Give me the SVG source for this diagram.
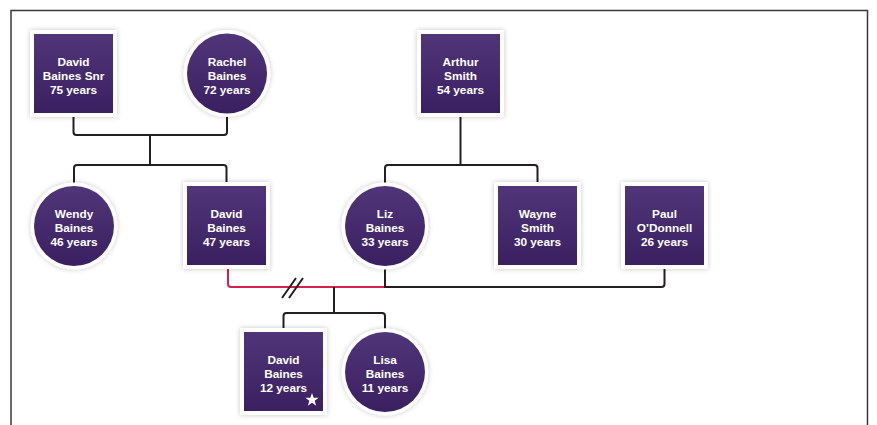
<svg xmlns="http://www.w3.org/2000/svg" width="877" height="425" viewBox="0 0 877 425">
<defs>
<linearGradient id="pg" x1="0" y1="0" x2="0" y2="1">
<stop offset="0" stop-color="#503678"/>
<stop offset="1" stop-color="#3a2061"/>
</linearGradient>
<filter id="sh" x="-20%" y="-20%" width="140%" height="140%">
<feDropShadow dx="0" dy="0" stdDeviation="2.5" flood-color="#000" flood-opacity="0.22"/>
</filter>
<style>
.ow{fill:#fff;filter:url(#sh)}
.in{fill:url(#pg)}
.t{font-family:"Liberation Sans",Arial,sans-serif;font-weight:bold;font-size:11.8px;fill:#fff;text-anchor:middle}
.c{fill:none;stroke:#231f20;stroke-width:2}
.r{fill:none;stroke:#d6204d;stroke-width:2}
</style>
</defs>
<rect width="877" height="425" fill="#fff"/>
<path d="M11,425 V10.5 H867.5 V425" fill="none" stroke="#3a3a3a" stroke-width="1.5"/>
<g id="connectors">
<path class="c" d="M73.5,117 V132 Q73.5,135 76.5,135 H224 Q227,135 227,132 V116"/>
<path class="c" d="M150,135 V165"/>
<path class="c" d="M74,183 V168 Q74,165 77,165 H223.5 Q226.5,165 226.5,168 V182"/>
<path class="c" d="M460.5,117 V165" stroke-width="2.6"/>
<path class="c" d="M385,183 V168 Q385,165 388,165 H534.5 Q537.5,165 537.5,168 V182"/>
<path class="r" d="M228,269 V284 Q228,287 231,287 H385"/>
<path class="c" d="M385,269 V287 H661.5 Q664.5,287 664.5,284 V269"/>
<path class="c" d="M282,298 L296,278 M289,298 L303,278"/>
<path class="c" d="M334,287 V313"/>
<path class="c" d="M283.5,328 V316 Q283.5,313 286.5,313 H382 Q385,313 385,316 V328.5"/>
</g>
<g id="david-baines-snr">
<rect class="ow" x="30" y="30" width="87" height="87"/>
<rect class="in" x="34" y="34" width="79" height="79"/>
<text class="t" x="73.5" y="65.5">David</text>
<text class="t" x="73.5" y="79.5">Baines Snr</text>
<text class="t" x="73.5" y="93.5">75 years</text>
</g>
<g id="rachel-baines">
<circle class="ow" cx="227" cy="73.5" r="43.5"/>
<circle class="in" cx="227" cy="73.5" r="40"/>
<text class="t" x="227" y="65.5">Rachel</text>
<text class="t" x="227" y="79.5">Baines</text>
<text class="t" x="227" y="93.5">72 years</text>
</g>
<g id="arthur-smith">
<rect class="ow" x="417" y="30" width="87" height="87"/>
<rect class="in" x="421" y="34" width="79" height="79"/>
<text class="t" x="460.5" y="65.5">Arthur</text>
<text class="t" x="460.5" y="79.5">Smith</text>
<text class="t" x="460.5" y="93.5">54 years</text>
</g>
<g id="wendy-baines">
<circle class="ow" cx="74" cy="226" r="43.5"/>
<circle class="in" cx="74" cy="226" r="40"/>
<text class="t" x="74" y="218">Wendy</text>
<text class="t" x="74" y="232">Baines</text>
<text class="t" x="74" y="246">46 years</text>
</g>
<g id="david-baines">
<rect class="ow" x="183" y="182" width="87" height="87"/>
<rect class="in" x="187" y="186" width="79" height="79"/>
<text class="t" x="226.5" y="218">David</text>
<text class="t" x="226.5" y="232">Baines</text>
<text class="t" x="226.5" y="246">47 years</text>
</g>
<g id="liz-baines">
<circle class="ow" cx="385" cy="226" r="43.5"/>
<circle class="in" cx="385" cy="226" r="40"/>
<text class="t" x="385" y="218">Liz</text>
<text class="t" x="385" y="232">Baines</text>
<text class="t" x="385" y="246">33 years</text>
</g>
<g id="wayne-smith">
<rect class="ow" x="494" y="182" width="87" height="87"/>
<rect class="in" x="498" y="186" width="79" height="79"/>
<text class="t" x="537.5" y="218">Wayne</text>
<text class="t" x="537.5" y="232">Smith</text>
<text class="t" x="537.5" y="246">30 years</text>
</g>
<g id="paul-odonnell">
<rect class="ow" x="621" y="182" width="87" height="87"/>
<rect class="in" x="625" y="186" width="79" height="79"/>
<text class="t" x="664.5" y="218">Paul</text>
<text class="t" x="664.5" y="232">O’Donnell</text>
<text class="t" x="664.5" y="246">26 years</text>
</g>
<g id="david-baines-12">
<rect class="ow" x="240" y="328" width="87" height="87"/>
<rect class="in" x="244" y="332" width="79" height="79"/>
<text class="t" x="283.5" y="364">David</text>
<text class="t" x="283.5" y="378">Baines</text>
<text class="t" x="283.5" y="392">12 years</text>
<polygon fill="#fff" points="312,393 313.65,397.73 318.66,397.84 314.67,400.87 316.11,405.66 312,402.8 307.89,405.66 309.33,400.87 305.34,397.84 310.35,397.73"/>
</g>
<g id="lisa-baines">
<circle class="ow" cx="385" cy="372" r="43.5"/>
<circle class="in" cx="385" cy="372" r="40"/>
<text class="t" x="385" y="364">Lisa</text>
<text class="t" x="385" y="378">Baines</text>
<text class="t" x="385" y="392">11 years</text>
</g>
</svg>
